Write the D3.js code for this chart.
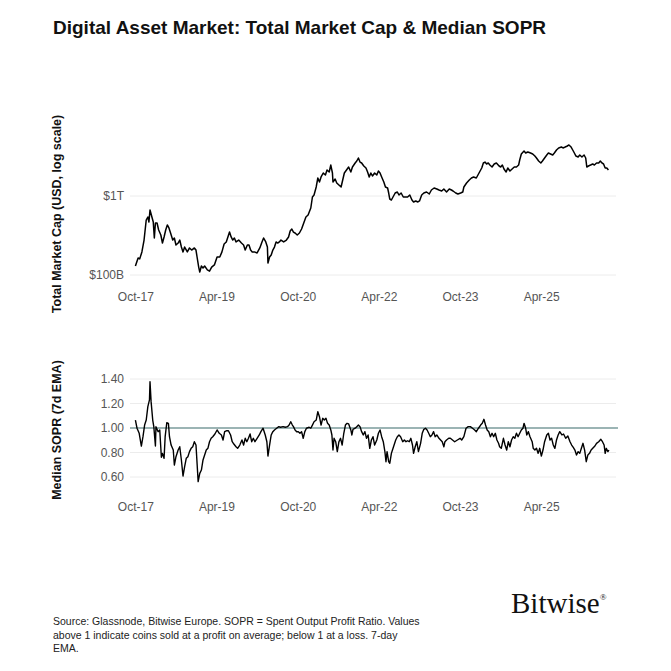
<!DOCTYPE html>
<html>
<head>
<meta charset="utf-8">
<script src="https://cdn.jsdelivr.net/npm/d3@7"></script>
<style>
  body { margin: 0; background: #fff; }
  svg { display: block; font-family: "Liberation Sans", Arial, sans-serif; }
</style>
</head>
<body>
<svg id="chart" width="671" height="671"></svg>
<script>
// x axis ticks (shared by both panels)
var tickLabels = ["Oct-17", "Apr-19", "Oct-20", "Apr-22", "Oct-23", "Apr-25"];
var tickDates = ["2017-10-01", "2019-04-01", "2020-10-01", "2022-04-01", "2023-10-01", "2025-04-01"];

// total market cap, decimal year -> USD billions
var mcapYears = [2017.74,2017.79,2017.82,2017.86,2017.90,2017.94,2017.97,2017.99,2018.01,2018.05,2018.07,2018.09,2018.11,2018.14,2018.17,2018.21,2018.24,2018.27,2018.30,2018.33,2018.36,2018.39,2018.43,2018.46,2018.49,2018.53,2018.56,2018.59,2018.62,2018.65,2018.70,2018.74,2018.78,2018.83,2018.86,2018.88,2018.91,2018.93,2018.96,2018.99,2019.02,2019.07,2019.11,2019.15,2019.20,2019.25,2019.30,2019.34,2019.38,2019.42,2019.45,2019.48,2019.51,2019.54,2019.57,2019.60,2019.65,2019.70,2019.74,2019.77,2019.81,2019.84,2019.87,2019.90,2019.94,2019.99,2020.04,2020.08,2020.11,2020.15,2020.18,2020.19,2020.22,2020.25,2020.28,2020.31,2020.34,2020.37,2020.40,2020.43,2020.48,2020.53,2020.57,2020.60,2020.63,2020.66,2020.69,2020.73,2020.77,2020.81,2020.85,2020.89,2020.93,2020.98,2021.01,2021.04,2021.08,2021.11,2021.14,2021.17,2021.21,2021.25,2021.28,2021.32,2021.35,2021.38,2021.39,2021.43,2021.46,2021.50,2021.54,2021.57,2021.60,2021.64,2021.68,2021.72,2021.75,2021.80,2021.83,2021.86,2021.89,2021.92,2021.96,2022.00,2022.03,2022.06,2022.09,2022.12,2022.16,2022.20,2022.23,2022.26,2022.29,2022.33,2022.36,2022.40,2022.42,2022.44,2022.47,2022.50,2022.54,2022.58,2022.61,2022.65,2022.69,2022.73,2022.77,2022.81,2022.85,2022.88,2022.92,2022.96,2022.99,2023.03,2023.07,2023.12,2023.17,2023.21,2023.26,2023.31,2023.35,2023.40,2023.44,2023.49,2023.54,2023.58,2023.61,2023.66,2023.70,2023.75,2023.79,2023.81,2023.86,2023.91,2023.95,2023.99,2024.04,2024.09,2024.14,2024.17,2024.20,2024.23,2024.26,2024.29,2024.33,2024.37,2024.41,2024.46,2024.49,2024.52,2024.55,2024.59,2024.62,2024.66,2024.70,2024.74,2024.78,2024.82,2024.84,2024.87,2024.92,2024.95,2024.99,2025.04,2025.08,2025.12,2025.15,2025.19,2025.23,2025.26,2025.30,2025.34,2025.37,2025.41,2025.45,2025.48,2025.52,2025.56,2025.61,2025.64,2025.68,2025.72,2025.75,2025.79,2025.82,2025.85,2025.88,2025.92,2025.95,2025.99,2026.03,2026.06,2026.08,2026.11,2026.15,2026.19,2026.22,2026.26,2026.30,2026.33,2026.36,2026.39,2026.42,2026.45,2026.48];
var mcapValues = [130,164,160,196,277,497,542,469,665,527,469,294,455,455,371,321,254,303,371,430,394,340,277,294,240,254,277,226,196,226,196,220,207,220,207,169,126,109,130,123,130,116,112,126,134,169,169,196,247,262,303,350,303,277,294,262,277,254,240,207,240,240,207,196,196,190,220,262,294,262,226,142,169,179,207,226,262,254,262,277,262,277,303,360,382,350,340,321,340,382,455,542,574,705,971,1030,1301,1690,1503,1741,1955,1845,2133,2014,2466,1955,1503,1642,1462,1378,1301,1595,1955,2133,2328,2014,2328,2618,2773,3027,2692,2618,2398,2261,2014,1741,1955,1792,1955,1845,2070,1955,1741,1503,1301,1263,1091,916,890,971,1091,1124,1030,1091,971,971,971,1030,890,840,865,840,865,1030,1091,1124,1060,1191,1263,1227,1191,1157,1227,1124,1227,1191,1157,1091,1060,1091,1124,1301,1462,1595,1690,1741,1690,1955,2261,2618,2692,2542,2618,2466,2328,2542,2618,2398,2328,2466,2198,2014,2261,2070,2198,2328,2328,2466,2857,3404,3715,3500,3606,3500,3404,3206,3027,2773,2618,2773,3027,3304,3500,3404,3304,3500,3822,4055,4169,4055,4169,4295,4424,4169,3822,3500,3206,3118,3304,3118,3304,3027,2328,2398,2466,2542,2466,2618,2618,2773,2618,2542,2261,2261,2133];

// median SOPR, 7d EMA
var soprYears = [2017.74,2017.77,2017.81,2017.85,2017.88,2017.91,2017.94,2017.97,2018.00,2018.01,2018.03,2018.06,2018.08,2018.11,2018.12,2018.16,2018.19,2018.22,2018.24,2018.27,2018.29,2018.32,2018.35,2018.37,2018.40,2018.44,2018.46,2018.49,2018.53,2018.56,2018.59,2018.62,2018.65,2018.68,2018.71,2018.74,2018.77,2018.80,2018.83,2018.86,2018.88,2018.90,2018.93,2018.96,2018.99,2019.02,2019.05,2019.08,2019.11,2019.14,2019.17,2019.21,2019.25,2019.29,2019.33,2019.36,2019.39,2019.43,2019.46,2019.50,2019.53,2019.56,2019.60,2019.63,2019.67,2019.71,2019.74,2019.77,2019.80,2019.83,2019.86,2019.89,2019.92,2019.95,2019.99,2020.03,2020.06,2020.10,2020.14,2020.17,2020.19,2020.22,2020.25,2020.28,2020.31,2020.35,2020.39,2020.42,2020.47,2020.51,2020.55,2020.58,2020.61,2020.64,2020.66,2020.69,2020.72,2020.75,2020.78,2020.81,2020.84,2020.87,2020.90,2020.95,2020.98,2021.01,2021.04,2021.08,2021.11,2021.14,2021.17,2021.20,2021.23,2021.26,2021.29,2021.32,2021.35,2021.37,2021.39,2021.41,2021.44,2021.47,2021.50,2021.53,2021.56,2021.59,2021.62,2021.65,2021.68,2021.72,2021.74,2021.76,2021.80,2021.83,2021.86,2021.89,2021.92,2021.95,2021.98,2022.01,2022.04,2022.07,2022.10,2022.13,2022.16,2022.20,2022.23,2022.26,2022.29,2022.32,2022.35,2022.37,2022.39,2022.42,2022.44,2022.47,2022.49,2022.52,2022.55,2022.58,2022.61,2022.64,2022.68,2022.71,2022.74,2022.77,2022.80,2022.83,2022.86,2022.88,2022.91,2022.94,2022.97,2023.01,2023.04,2023.07,2023.10,2023.13,2023.16,2023.19,2023.22,2023.25,2023.28,2023.31,2023.35,2023.38,2023.41,2023.44,2023.46,2023.49,2023.53,2023.56,2023.60,2023.64,2023.69,2023.74,2023.77,2023.81,2023.85,2023.89,2023.93,2023.97,2024.01,2024.04,2024.08,2024.12,2024.15,2024.18,2024.21,2024.24,2024.27,2024.30,2024.33,2024.36,2024.39,2024.42,2024.45,2024.47,2024.50,2024.54,2024.57,2024.60,2024.63,2024.66,2024.69,2024.72,2024.75,2024.78,2024.81,2024.84,2024.87,2024.90,2024.92,2024.95,2024.97,2025.00,2025.03,2025.07,2025.09,2025.12,2025.15,2025.18,2025.21,2025.24,2025.27,2025.30,2025.34,2025.37,2025.40,2025.43,2025.46,2025.49,2025.52,2025.55,2025.58,2025.62,2025.65,2025.69,2025.73,2025.77,2025.80,2025.83,2025.86,2025.89,2025.92,2025.95,2025.98,2026.01,2026.04,2026.07,2026.10,2026.13,2026.16,2026.19,2026.23,2026.26,2026.30,2026.34,2026.37,2026.40,2026.42,2026.44,2026.47,2026.49];
var soprValues = [1.065,0.998,0.957,0.853,0.929,1.024,1.065,1.174,1.229,1.378,1.215,1.065,1.011,0.853,1.011,0.970,0.984,0.761,0.793,0.753,0.929,1.043,1.038,0.929,0.861,0.820,0.698,0.766,0.820,0.847,0.739,0.608,0.684,0.753,0.766,0.807,0.834,0.847,0.888,0.861,0.712,0.562,0.630,0.657,0.739,0.780,0.820,0.834,0.888,0.916,0.929,0.951,0.984,0.957,0.943,0.902,0.970,0.978,0.978,0.943,0.888,0.869,0.847,0.834,0.861,0.902,0.861,0.916,0.888,0.916,0.951,0.888,0.916,0.888,0.916,0.943,0.970,0.998,0.943,0.888,0.771,0.861,0.943,0.970,0.984,0.998,1.011,1.006,1.011,1.006,1.011,1.024,1.051,1.024,1.011,0.984,0.970,0.970,0.957,0.970,0.916,0.970,0.998,1.006,0.998,1.024,1.051,1.065,1.133,1.092,1.024,1.079,1.065,1.079,1.038,1.024,0.984,0.943,0.820,0.916,0.888,0.807,0.888,0.916,0.861,0.957,1.024,1.038,1.033,0.984,0.943,0.989,0.998,1.011,1.024,1.011,0.970,0.943,0.970,0.916,0.943,0.834,0.902,0.929,0.861,0.902,0.957,0.984,0.929,0.888,0.807,0.725,0.807,0.725,0.712,0.793,0.820,0.861,0.902,0.929,0.943,0.929,0.888,0.902,0.888,0.896,0.888,0.916,0.861,0.793,0.847,0.888,0.807,0.875,0.957,0.989,0.998,0.984,0.957,0.929,0.943,0.970,0.929,0.943,0.916,0.902,0.888,0.847,0.888,0.902,0.916,0.916,0.902,0.888,0.902,0.916,0.902,0.929,0.998,1.011,1.011,0.998,0.984,0.970,0.998,1.024,1.038,1.071,1.024,0.984,0.970,0.929,0.957,0.929,0.957,0.902,0.875,0.847,0.834,0.916,0.861,0.820,0.888,0.847,0.902,0.929,0.916,0.957,0.929,0.957,0.984,0.998,1.038,0.998,0.943,0.970,0.929,0.888,0.834,0.820,0.834,0.793,0.834,0.771,0.820,0.888,0.943,0.957,0.902,0.916,0.861,0.834,0.902,0.943,0.970,0.943,0.951,0.916,0.935,0.888,0.861,0.842,0.820,0.780,0.807,0.793,0.834,0.875,0.820,0.725,0.780,0.793,0.820,0.834,0.853,0.875,0.888,0.908,0.888,0.861,0.793,0.834,0.807,0.820];

var mcapTicks = [1e11, 1e12];
var mcapTickLabels = ["$100B", "$1T"];
var soprTicks = [0.6, 0.8, 1.0, 1.2, 1.4];

function toDate(y) {
    var yr = Math.floor(y);
    var a = new Date(yr, 0, 1), b = new Date(yr + 1, 0, 1);
    return new Date(a.getTime() + (y - yr) * (b - a));
}

var svg = d3.select("#chart");
var left = 130, right = 616;

var x = d3.scaleTime()
    .domain([toDate(2017.64), toDate(2026.62)])
    .range([left, right]);

var yTop = d3.scaleLog().domain([1e11, 1e12]).range([275, 196]);
var yBot = d3.scaleLinear().domain([0.6, 1.4]).range([477, 379]);

// title
svg.append("text")
    .attr("x", 53).attr("y", 34)
    .attr("font-size", 19).attr("font-weight", "bold")
    .attr("fill", "#111")
    .text("Digital Asset Market: Total Market Cap & Median SOPR");

function drawPanel(yScale, ticks, labels, xLabelY) {
    var g = svg.append("g");
    g.selectAll("line.grid").data(ticks).enter().append("line")
        .attr("class", "grid")
        .attr("x1", left).attr("x2", right)
        .attr("y1", function (d) { return yScale(d); })
        .attr("y2", function (d) { return yScale(d); })
        .attr("stroke", "#ececec").attr("stroke-width", 1);

    g.selectAll("text.ylab").data(ticks).enter().append("text")
        .attr("class", "ylab")
        .attr("x", 124)
        .attr("y", function (d) { return yScale(d) + 4; })
        .attr("text-anchor", "end")
        .attr("font-size", 12).attr("fill", "#555")
        .text(function (d, i) { return labels[i]; });

    g.selectAll("text.xlab").data(tickDates).enter().append("text")
        .attr("class", "xlab")
        .attr("x", function (d) { return x(new Date(d + "T00:00:00")); })
        .attr("y", xLabelY)
        .attr("text-anchor", "middle")
        .attr("font-size", 12).attr("fill", "#555")
        .text(function (d, i) { return tickLabels[i]; });
    return g;
}

// top panel: market cap
drawPanel(yTop, mcapTicks, mcapTickLabels, 301);

var mcapData = mcapYears.map(function (d, i) { return { date: toDate(d), v: mcapValues[i] * 1e9 }; });
svg.append("path")
    .datum(mcapData)
    .attr("fill", "none")
    .attr("stroke", "#000")
    .attr("stroke-width", 1.5)
    .attr("stroke-linejoin", "round")
    .attr("d", d3.line().x(function (d) { return x(d.date); }).y(function (d) { return yTop(d.v); }));

// bottom panel: SOPR
drawPanel(yBot, soprTicks, soprTicks.map(function (d) { return d.toFixed(2); }), 511);

svg.append("line")
    .attr("x1", left).attr("x2", right + 2)
    .attr("y1", yBot(1)).attr("y2", yBot(1))
    .attr("stroke", "#7d9e9e").attr("stroke-width", 1.3);

var soprData = soprYears.map(function (d, i) { return { date: toDate(d), v: soprValues[i] }; });
svg.append("path")
    .datum(soprData)
    .attr("fill", "none")
    .attr("stroke", "#000")
    .attr("stroke-width", 1.4)
    .attr("stroke-linejoin", "round")
    .attr("d", d3.line().x(function (d) { return x(d.date); }).y(function (d) { return yBot(d.v); }));

// axis titles
svg.append("text")
    .attr("transform", "translate(61,214) rotate(-90)")
    .attr("text-anchor", "middle")
    .attr("font-size", 12.5).attr("font-weight", "bold").attr("fill", "#111")
    .text("Total Market Cap (USD, log scale)");

svg.append("text")
    .attr("transform", "translate(61,430) rotate(-90)")
    .attr("text-anchor", "middle")
    .attr("font-size", 12.5).attr("font-weight", "bold").attr("fill", "#111")
    .text("Median SOPR (7d EMA)");

// footer
var notes = [
    "Source: Glassnode, Bitwise Europe. SOPR = Spent Output Profit Ratio. Values",
    "above 1 indicate coins sold at a profit on average; below 1 at a loss. 7-day",
    "EMA."
];
svg.selectAll("text.note").data(notes).enter().append("text")
    .attr("class", "note")
    .attr("x", 53)
    .attr("y", function (d, i) { return 625 + i * 13.5; })
    .attr("font-size", 10.5).attr("fill", "#222")
    .text(function (d) { return d; });

var logo = svg.append("text")
    .attr("x", 511).attr("y", 613)
    .attr("font-family", "'Liberation Serif', 'DejaVu Serif', serif")
    .attr("font-size", 29).attr("fill", "#111");
logo.append("tspan").text("Bitwise");
logo.append("tspan").attr("font-size", 9).attr("dy", -13).text("®");
</script>
</body>
</html>
